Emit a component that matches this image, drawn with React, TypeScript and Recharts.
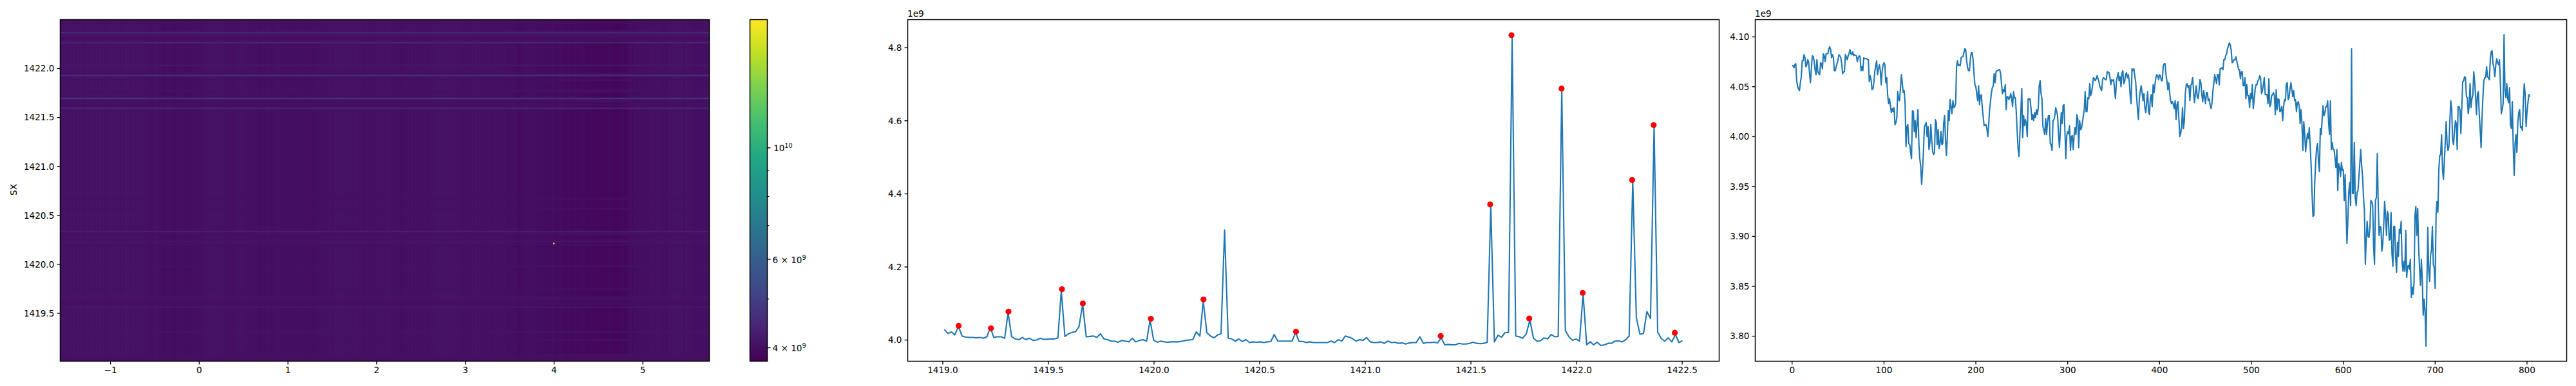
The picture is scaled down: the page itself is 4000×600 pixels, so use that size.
import React from "react";
import { ComposedChart, Line, XAxis, YAxis, ReferenceArea } from "recharts";

const FONT = "DejaVu Sans";
const BLUE = "#1f77b4";

const viridisStops = ["#440154", "#482475", "#414487", "#355f8d", "#2a788e", "#21918c", "#22a884", "#44bf70", "#7ad151", "#bddf26", "#fde725"];
const colorMin = 3.76e9;
const colorMax = 1.8e10;

// Panel 2: spectrum (x in SX, value in units of 1e6)
const spectrumX = [
  1419.007,1419.024,1419.041,1419.057,1419.074,1419.091,1419.108,1419.125,1419.141,1419.158,
  1419.175,1419.192,1419.209,1419.225,1419.242,1419.259,1419.276,1419.293,1419.309,1419.326,
  1419.343,1419.360,1419.377,1419.393,1419.410,1419.427,1419.444,1419.461,1419.477,1419.494,
  1419.511,1419.528,1419.545,1419.561,1419.578,1419.595,1419.612,1419.629,1419.645,1419.662,
  1419.679,1419.696,1419.713,1419.729,1419.746,1419.763,1419.780,1419.797,1419.813,1419.830,
  1419.847,1419.864,1419.881,1419.897,1419.914,1419.931,1419.948,1419.965,1419.981,1419.998,
  1420.015,1420.032,1420.049,1420.065,1420.082,1420.099,1420.116,1420.133,1420.149,1420.166,
  1420.183,1420.200,1420.217,1420.233,1420.250,1420.267,1420.284,1420.301,1420.317,1420.334,
  1420.351,1420.368,1420.385,1420.401,1420.418,1420.435,1420.452,1420.469,1420.485,1420.502,
  1420.519,1420.536,1420.553,1420.569,1420.586,1420.603,1420.620,1420.637,1420.653,1420.670,
  1420.687,1420.704,1420.721,1420.737,1420.754,1420.771,1420.788,1420.805,1420.821,1420.838,
  1420.855,1420.872,1420.889,1420.905,1420.922,1420.939,1420.956,1420.973,1420.989,1421.006,
  1421.023,1421.040,1421.057,1421.073,1421.090,1421.107,1421.124,1421.141,1421.157,1421.174,
  1421.191,1421.208,1421.225,1421.241,1421.258,1421.275,1421.292,1421.309,1421.325,1421.342,
  1421.359,1421.376,1421.393,1421.409,1421.426,1421.443,1421.460,1421.477,1421.493,1421.510,
  1421.527,1421.544,1421.561,1421.577,1421.594,1421.611,1421.628,1421.645,1421.661,1421.678,
  1421.695,1421.712,1421.729,1421.745,1421.762,1421.779,1421.796,1421.813,1421.829,1421.846,
  1421.863,1421.880,1421.897,1421.913,1421.930,1421.947,1421.964,1421.981,1421.997,1422.014,
  1422.031,1422.048,1422.065,1422.081,1422.098,1422.115,1422.132,1422.149,1422.165,1422.182,
  1422.199,1422.216,1422.233,1422.249,1422.266,1422.283,1422.300,1422.317,1422.333,1422.350,
  1422.367,1422.384,1422.401,1422.417,1422.434,1422.451,1422.468,1422.485,1422.501,
];
const spectrumV = [
  4029,4018,4022,4014,4038,4011,4008,4007,4007,4006,
  4007,4005,4009,4034,4007,4009,4009,4005,4075,4009,
  4003,4001,4007,4001,4005,3999,4000,4005,4002,4002,
  4003,4003,4006,4135,4010,4017,4021,4023,4037,4098,
  4009,4010,4011,4007,4017,4003,4001,3997,3997,3994,
  3999,3997,3995,4005,3995,3999,4001,3997,4055,4000,
  3994,3997,3995,3994,3995,3995,3995,3997,3999,4000,
  4001,4022,4011,4107,4020,4011,4006,4014,4017,4301,
  4005,4003,3997,4003,3996,4001,3993,3995,3994,3995,
  3993,3995,3996,4015,3997,3997,3997,3997,3997,4020,
  3996,3996,3993,3995,3993,3993,3993,3993,3993,3997,
  3993,4001,3997,4011,4008,4004,3997,4001,3999,4007,
  3995,3993,3993,3995,3991,3997,3993,3994,3991,3992,
  3989,3992,3993,3993,4009,3991,3993,3993,3994,3992,
  4006,3987,3988,3987,3987,3991,3989,3989,3991,3994,
  3991,3990,3991,3994,4367,3995,4013,4008,4020,4021,
  4830,4011,4009,4005,4017,4055,4005,3997,3998,4006,
  4003,4015,4009,4010,4684,4026,4009,3999,4003,3997,
  4125,3987,3995,3987,3994,3985,3987,3991,3991,3997,
  3998,3995,4001,4011,4435,4061,4016,4018,4078,4059,
  4584,4022,4004,3997,4006,3995,4015,3993,3998,
];
const peakX = [1419.075,1419.228,1419.311,1419.564,1419.663,1419.985,1420.234,1420.672,1421.357,1421.591,1421.692,1421.776,1421.929,1422.029,1422.263,1422.365,1422.465];
const peakV = [4039,4032,4078,4139,4100,4058,4111,4023,4011,4371,4834,4059,4688,4129,4438,4588,4020];

// Panel 3: [frame index, value in units of 1e6]
const frameSeries: [number, number][] = [
[0,4071],[1,4071],[2,4069],[3,4072],[4,4073],[5,4056],[6,4050],[8,4046],[9,4054],[10,4060],[11,4076],[12,4076],[13,4082],[14,4079],[15,4070],[16,4072],[17,4077],[18,4075],[19,4063],[20,4054],
[21,4068],[22,4081],[23,4080],[24,4076],[25,4067],[26,4062],[27,4077],[28,4065],[29,4063],[30,4062],[31,4074],[32,4073],[33,4068],[34,4083],[35,4081],[36,4075],[37,4083],[39,4083],[40,4088],[41,4090],
[42,4087],[43,4079],[44,4082],[45,4079],[46,4066],[47,4066],[48,4070],[50,4077],[51,4082],[52,4081],[53,4079],[54,4073],[55,4063],[56,4065],[57,4065],[58,4082],[59,4080],[60,4077],[61,4081],[62,4083],
[63,4087],[64,4083],[65,4082],[66,4085],[67,4081],[68,4082],[70,4081],[71,4075],[72,4079],[73,4081],[74,4080],[75,4066],[76,4070],[77,4066],[78,4079],[79,4078],[80,4078],[81,4078],[83,4077],[84,4055],
[85,4061],[86,4057],[87,4047],[88,4048],[89,4054],[90,4065],[92,4076],[93,4062],[94,4067],[95,4072],[96,4067],[97,4052],[98,4065],[99,4072],[100,4074],[101,4072],[102,4054],[103,4059],[104,4042],[105,4033],
[106,4038],[107,4031],[108,4024],[109,4028],[110,4025],[111,4029],[112,4012],[113,4014],[114,4019],[115,4045],[116,4037],[117,4036],[119,4062],[120,4053],[121,4044],[122,4046],[123,4033],[124,3990],[125,4010],[126,4012],
[127,3993],[128,3992],[129,3984],[130,3978],[131,4026],[132,4025],[133,4005],[134,4016],[135,3999],[137,4027],[138,3993],[139,3978],[140,3970],[141,3952],[142,3967],[143,3986],[144,4010],[145,4012],[146,4014],[147,4000],
[148,4010],[149,3987],[150,3994],[151,4012],[152,3997],[153,3985],[154,3982],[155,3984],[156,4017],[157,4014],[158,3992],[159,4007],[160,3988],[161,3993],[162,4005],[163,3992],[164,3993],[165,4013],[166,4021],[167,3997],
[168,3981],[169,4001],[170,4026],[171,4016],[172,4037],[173,4030],[174,4023],[175,4036],[176,4029],[177,4030],[178,4033],[179,4070],[180,4076],[181,4071],[182,4072],[183,4071],[184,4079],[185,4080],[186,4080],[187,4084],
[188,4088],[189,4087],[190,4076],[191,4069],[192,4066],[193,4066],[194,4077],[195,4084],[196,4084],[197,4077],[198,4063],[199,4052],[200,4050],[202,4036],[203,4051],[204,4032],[205,4041],[206,4042],[207,4029],[209,4011],
[211,4012],[212,4008],[213,4000],[214,4012],[215,4027],[217,4044],[218,4049],[219,4051],[220,4063],[221,4054],[222,4065],[223,4066],[224,4066],[225,4067],[226,4067],[227,4063],[228,4052],[229,4043],[230,4047],[231,4045],
[232,4052],[233,4027],[234,4040],[235,4040],[236,4037],[237,4039],[238,4043],[239,4038],[240,4030],[241,4045],[242,4039],[243,4039],[244,4025],[245,4005],[246,3988],[247,3980],[248,4003],[250,4048],[251,3999],[252,4021],
[253,4011],[254,4017],[255,4013],[256,4000],[257,4038],[258,4037],[259,4038],[260,4029],[261,4017],[262,4022],[263,4016],[264,4024],[265,4019],[266,4027],[267,4022],[268,4029],[269,4051],[270,4056],[271,4043],[272,4038],
[273,4010],[274,4007],[275,4002],[276,4018],[277,4002],[278,4014],[279,4021],[280,4021],[281,3993],[282,3992],[283,3986],[284,4016],[285,4017],[286,4021],[287,4029],[288,4025],[289,4021],[290,4003],[291,3989],[292,4005],
[293,4024],[294,4013],[295,4031],[296,4032],[297,4005],[298,3978],[299,4001],[300,4005],[301,4003],[302,4011],[303,3986],[304,4000],[305,4001],[306,3987],[307,4001],[308,4009],[309,4002],[310,4022],[311,4018],[312,3989],
[313,4016],[314,4007],[315,4008],[316,4014],[318,4027],[319,4045],[320,4025],[321,4025],[322,4039],[323,4038],[324,4053],[325,4041],[326,4044],[327,4051],[328,4059],[329,4058],[330,4056],[331,4058],[332,4061],[333,4058],
[334,4055],[335,4050],[336,4048],[337,4046],[338,4057],[339,4059],[340,4058],[341,4057],[342,4057],[343,4065],[345,4064],[346,4059],[347,4052],[348,4057],[349,4056],[350,4057],[352,4038],[353,4055],[354,4060],[355,4064],
[356,4056],[357,4060],[358,4050],[359,4063],[360,4066],[361,4053],[362,4055],[363,4062],[364,4064],[365,4059],[366,4062],[367,4055],[368,4042],[369,4033],[370,4068],[371,4066],[372,4068],[373,4061],[374,4055],[375,4040],
[376,4027],[377,4017],[378,4038],[379,4046],[380,4051],[381,4044],[382,4036],[383,4043],[384,4029],[385,4024],[387,4045],[388,4025],[389,4022],[390,4038],[391,4042],[392,4030],[393,4052],[394,4044],[395,4052],[396,4059],
[397,4062],[398,4061],[399,4057],[400,4062],[401,4061],[402,4056],[403,4056],[404,4071],[405,4073],[406,4073],[407,4062],[408,4056],[409,4047],[410,4054],[411,4044],[412,4036],[413,4033],[414,4035],[415,4032],[416,4028],
[417,4036],[418,4017],[419,4032],[420,4035],[421,4018],[422,4000],[423,4003],[424,4010],[425,4029],[426,4008],[427,4016],[428,4042],[429,4052],[430,4053],[431,4049],[432,4051],[433,4036],[434,4051],[435,4053],[436,4059],
[437,4046],[438,4034],[439,4043],[440,4051],[441,4040],[442,4038],[443,4046],[444,4057],[445,4054],[446,4042],[447,4035],[448,4046],[449,4040],[450,4033],[451,4044],[452,4044],[453,4036],[454,4038],[455,4032],[456,4028],
[457,4033],[458,4045],[459,4053],[460,4062],[461,4058],[462,4053],[463,4062],[464,4062],[465,4052],[466,4068],[467,4068],[468,4069],[469,4067],[470,4077],[471,4077],[472,4081],[473,4083],[474,4088],[475,4091],[476,4094],
[477,4092],[478,4086],[479,4074],[480,4075],[481,4077],[482,4077],[483,4080],[484,4076],[485,4072],[486,4067],[487,4067],[488,4058],[489,4065],[490,4065],[491,4051],[492,4051],[493,4059],[494,4038],[495,4052],[496,4041],
[497,4041],[498,4029],[499,4043],[500,4038],[501,4052],[502,4028],[503,4037],[504,4047],[505,4052],[506,4052],[507,4056],[508,4057],[509,4061],[510,4059],[511,4043],[512,4046],[513,4052],[514,4059],[515,4042],[516,4042],
[517,4042],[518,4033],[519,4058],[520,4030],[521,4032],[522,4041],[523,4042],[524,4044],[525,4041],[526,4022],[527,4047],[528,4027],[529,4038],[530,4037],[531,4025],[532,4026],[533,4030],[534,4016],[535,4030],[536,4037],
[537,4036],[538,4053],[539,4054],[540,4037],[541,4039],[542,4048],[543,4054],[544,4047],[545,4040],[546,4046],[547,4036],[548,4037],[549,4025],[550,4034],[551,4035],[552,4031],[553,4013],[554,4027],[555,4013],[556,3986],
[557,4015],[558,4003],[559,3985],[560,3995],[561,4003],[562,3998],[563,4009],[564,3990],[565,3971],[566,3943],[567,3920],[568,3921],[569,3956],[570,3975],[571,3989],[572,3993],[573,3975],[574,3965],[575,4008],[576,4002],
[577,4018],[578,4031],[579,4021],[580,4024],[581,4030],[582,4030],[583,4036],[584,4014],[585,4002],[586,4036],[587,3987],[588,3994],[589,3987],[590,3987],[591,3978],[592,3969],[593,3987],[594,3946],[595,3973],[596,3969],
[597,3960],[598,3974],[599,3966],[600,3967],[601,3936],[602,3962],[604,3893],[605,3917],[606,3945],[607,3954],[608,3931],[609,4088],[610,3943],[611,3943],[612,3994],[613,3939],[614,3931],[615,3944],[616,3946],[618,3973],
[619,3987],[620,3971],[621,3960],[622,3939],[623,3926],[624,3872],[625,3898],[626,3915],[627,3900],[628,3899],[629,3909],[630,3936],[631,3935],[632,3931],[633,3890],[634,3872],[635,3936],[636,3939],[637,3983],[638,3935],
[639,3901],[640,3910],[641,3909],[642,3885],[643,3893],[644,3911],[645,3935],[646,3922],[647,3901],[648,3925],[649,3922],[650,3896],[651,3897],[652,3924],[653,3883],[654,3870],[655,3910],[656,3910],[657,3879],[658,3864],
[659,3894],[660,3880],[661,3907],[662,3903],[663,3915],[664,3874],[665,3865],[666,3875],[667,3865],[668,3906],[669,3859],[670,3870],[671,3871],[672,3867],[673,3877],[674,3839],[675,3849],[676,3842],[677,3853],[678,3920],
[679,3930],[680,3901],[681,3928],[682,3890],[683,3868],[684,3851],[685,3877],[686,3857],[687,3821],[688,3837],[689,3825],[690,3790],[691,3851],[692,3909],[693,3866],[694,3855],[695,3881],[696,3887],[697,3910],[698,3872],
[699,3868],[700,3848],[701,3922],[702,3935],[703,3924],[704,3967],[705,3981],[706,3982],[707,4002],[708,3967],[709,3957],[710,3975],[711,3994],[712,4015],[713,3993],[714,3986],[715,3990],[716,4016],[717,4036],[718,4028],
[719,3997],[720,3992],[721,4005],[722,4016],[723,4013],[724,3987],[725,4030],[726,4030],[727,4027],[728,4003],[730,4055],[731,4056],[732,4060],[733,4059],[734,4040],[735,4039],[736,4023],[737,4031],[738,4053],[739,4029],
[740,4038],[741,4041],[742,4065],[743,4055],[744,4040],[745,4022],[746,4043],[747,4045],[748,4023],[749,4007],[750,3989],[751,4018],[752,4040],[753,4056],[754,4059],[755,4059],[756,4070],[757,4060],[758,4059],[759,4057],
[760,4077],[761,4085],[762,4086],[763,4073],[764,4069],[765,4060],[766,4072],[767,4078],[768,4074],[769,4072],[770,4077],[771,4054],[772,4023],[773,4027],[774,4033],[775,4102],[776,4047],[777,4039],[778,4053],[779,4038],
[780,4034],[781,4049],[782,4012],[783,4008],[784,4035],[785,3990],[786,3961],[787,3993],[788,4002],[789,3984],[790,4015],[791,4024],[792,4027],[793,4009],[794,4010],[795,4006],[796,4036],[797,4053],[798,4042],[799,4010],
[800,4025],[801,4034],[802,4042],[803,4040],
];

const frameCount = 804;
const heatXDomain: [number, number] = [-1.567, 5.75];
const heatYDomain: [number, number] = [1419.01, 1422.5];
const heatXTicks = [-1, 0, 1, 2, 3, 4, 5];
const heatYTicks = [1419.5, 1420, 1420.5, 1421, 1421.5, 1422];
const hotCell = { x1: 3.99, x2: 4.005, y1: 1420.205, y2: 1420.22, value: 1.8e10 };

const spectrumXTicks = [1419, 1419.5, 1420, 1420.5, 1421, 1421.5, 1422, 1422.5];
const spectrumYTicks = [4000, 4200, 4400, 4600, 4800];
const spectrumXDomain: [number, number] = [1418.834, 1422.675];
const spectrumYDomain: [number, number] = [3942, 4876.7];

const frameXTicks = [0, 100, 200, 300, 400, 500, 600, 700, 800];
const frameYTicks = [3800, 3850, 3900, 3950, 4000, 4050, 4100];
const frameXDomain: [number, number] = [-40.15, 843.15];
const frameYDomain: [number, number] = [3774.9, 4117.2];

const colorbarUnit: [number, number] = [0, 1];
const colorbarMajor = [4e9, 6e9, 1e10];
const colorbarTicks = [4e9, 5e9, 6e9, 7e9, 8e9, 9e9, 1e10];

const spectrumData = spectrumX.map((x, i) => ({ x, v: spectrumV[i] }));
const peakData = peakX.map((x, i) => ({ x, v: peakV[i] }));
const frameData = frameSeries.map(([x, v]) => ({ x, v }));

function viridis(value: number): string {
  const t = Math.min(1, Math.max(0, Math.log(value / colorMin) / Math.log(colorMax / colorMin)));
  const p = t * (viridisStops.length - 1);
  const i = Math.min(viridisStops.length - 2, Math.floor(p));
  const f = p - i;
  const a = viridisStops[i];
  const b = viridisStops[i + 1];
  const ch = (s: string, o: number) => parseInt(s.slice(o, o + 2), 16);
  const mix = (o: number) => Math.round(ch(a, o) + (ch(b, o) - ch(a, o)) * f);
  return `rgb(${mix(1)},${mix(3)},${mix(5)})`;
}

const frameToHeatX = (frame: number) =>
  heatXDomain[0] + (frame / frameCount) * (heatXDomain[1] - heatXDomain[0]);

const tickStyle = { fill: "#000", fontSize: 13.6, fontFamily: FONT };
const tickLineStyle = { stroke: "#000", strokeWidth: 1.3 };

function frameArea(x: [number, number], y: [number, number]) {
  return (
    <ReferenceArea
      x1={x[0]}
      x2={x[1]}
      y1={y[0]}
      y2={y[1]}
      fill="none"
      fillOpacity={0}
      stroke="#000"
      strokeWidth={1.5}
      ifOverflow="visible"
    />
  );
}

function ColorbarTick(props: any) {
  const { x, y, payload } = props;
  const v = payload.value as number;
  const major = colorbarMajor.includes(v);
  let body: React.ReactNode = null;
  if (major) {
    if (v === 1e10) {
      body = (
        <text x={x + 9.5} y={y + 5.5} fill="#000" fontSize={13.6} fontFamily={FONT}>
          10<tspan dy={-5} fontSize={9.6}>10</tspan>
        </text>
      );
    } else {
      body = (
        <text x={x + 8} y={y + 5.5} fill="#000" fontSize={13.6} fontFamily={FONT}>
          {v / 1e9} × 10<tspan dy={-5} fontSize={9.6}>9</tspan>
        </text>
      );
    }
  }
  return (
    <g>
      <line x1={x} x2={x + (major ? 5 : 3)} y1={y} y2={y} stroke="#000" strokeWidth={major ? 1.3 : 1} />
      {body}
    </g>
  );
}

function Heatmap() {
  return (
    <ComposedChart width={1120} height={600} margin={{ top: 30.5, right: 18.5, bottom: 0, left: 0 }} data={[]}>
      <XAxis
        type="number"
        dataKey="x"
        domain={heatXDomain}
        ticks={heatXTicks}
        interval={0}
        allowDataOverflow
        height={38.5}
        axisLine={false}
        tickLine={tickLineStyle}
        tickSize={5}
        tickMargin={4}
        tick={tickStyle}
        tickFormatter={(v: number) => (v < 0 ? `\u2212${-v}` : `${v}`)}
      />
      <YAxis
        type="number"
        dataKey="y"
        domain={heatYDomain}
        ticks={heatYTicks}
        interval={0}
        allowDataOverflow
        width={93.5}
        axisLine={false}
        tickLine={tickLineStyle}
        tickSize={5}
        tickMargin={4}
        tick={tickStyle}
        tickFormatter={(v: number) => v.toFixed(1)}
      />
      <ReferenceArea x1={heatXDomain[0]} x2={heatXDomain[1]} y1={heatYDomain[0]} y2={heatYDomain[1]} fill={viridis(4.03e9)} fillOpacity={1} stroke="none" ifOverflow="hidden" />
      {frameSeries.slice(0, -1).map(([f, v], i) => (
        <ReferenceArea
          key={`c${i}`}
          x1={frameToHeatX(f)}
          x2={frameToHeatX(frameSeries[i + 1][0])}
          y1={heatYDomain[0]}
          y2={heatYDomain[1]}
          fill={viridis(v * 1e6)}
          fillOpacity={1}
          stroke="none"
          ifOverflow="hidden"
        />
      ))}
      {spectrumX.map((x, i) =>
        spectrumV[i] > 4012 ? (
          <ReferenceArea
            key={`r${i}`}
            x1={heatXDomain[0]}
            x2={heatXDomain[1]}
            y1={x - 0.0084}
            y2={x + 0.0084}
            fill={viridis(spectrumV[i] * 1e6)}
            fillOpacity={0.9}
            stroke="none"
            ifOverflow="hidden"
          />
        ) : null
      )}
      <ReferenceArea x1={hotCell.x1} x2={hotCell.x2} y1={hotCell.y1} y2={hotCell.y2} fill={viridis(hotCell.value)} fillOpacity={1} stroke="none" ifOverflow="hidden" />
      {frameArea(heatXDomain, heatYDomain)}
    </ComposedChart>
  );
}

function Colorbar() {
  return (
    <ComposedChart width={150} height={600} margin={{ top: 30.5, right: 38.5, bottom: 0, left: 14.5 }} data={[]}>
      <defs>
        <linearGradient id="viridisBar" x1="0" y1="1" x2="0" y2="0">
          {viridisStops.map((c, i) => (
            <stop key={c} offset={i / (viridisStops.length - 1)} stopColor={c} />
          ))}
        </linearGradient>
      </defs>
      <XAxis
        type="number"
        dataKey="x"
        domain={colorbarUnit}
        allowDataOverflow
        height={38.5}
        tick={false}
        axisLine={false}
        tickLine={false}
      />
      <YAxis
        type="number"
        dataKey="y"
        orientation="right"
        scale="log"
        domain={[colorMin, colorMax]}
        allowDataOverflow
        ticks={colorbarTicks}
        interval={0}
        width={70}
        axisLine={false}
        tickLine={false}
        tickSize={0}
        tickMargin={0}
        tick={<ColorbarTick />}
      />
      <ReferenceArea x1={colorbarUnit[0]} x2={colorbarUnit[1]} y1={colorMin} y2={colorMax} fill="url(#viridisBar)" fillOpacity={1} stroke="none" ifOverflow="visible" />
      {frameArea(colorbarUnit, [colorMin, colorMax])}
    </ComposedChart>
  );
}

function Spectrum() {
  return (
    <ComposedChart width={1350} height={600} margin={{ top: 30.5, right: 20.5, bottom: 0, left: 0 }}>
      <XAxis
        type="number"
        dataKey="x"
        domain={spectrumXDomain}
        ticks={spectrumXTicks}
        interval={0}
        allowDataOverflow
        height={38.5}
        axisLine={false}
        tickLine={tickLineStyle}
        tickSize={5}
        tickMargin={4}
        tick={tickStyle}
        tickFormatter={(v: number) => v.toFixed(1)}
      />
      <YAxis
        type="number"
        domain={spectrumYDomain}
        ticks={spectrumYTicks}
        interval={0}
        allowDataOverflow
        width={69.5}
        axisLine={false}
        tickLine={tickLineStyle}
        tickSize={5}
        tickMargin={4}
        tick={tickStyle}
        tickFormatter={(v: number) => (v / 1000).toFixed(1)}
      />
      <Line data={spectrumData} dataKey="v" type="linear" stroke={BLUE} strokeWidth={2.1} strokeLinejoin="round" dot={false} activeDot={false} isAnimationActive={false} />
      <Line data={peakData} dataKey="v" type="linear" stroke="none" dot={{ r: 4.6, fill: "#ff0000", stroke: "none" }} activeDot={false} isAnimationActive={false} />
      {frameArea(spectrumXDomain, spectrumYDomain)}
    </ComposedChart>
  );
}

function FramePlot() {
  return (
    <ComposedChart width={1325} height={600} margin={{ top: 30.5, right: 14.5, bottom: 0, left: 0 }}>
      <XAxis
        type="number"
        dataKey="x"
        domain={frameXDomain}
        ticks={frameXTicks}
        interval={0}
        allowDataOverflow
        height={38.5}
        axisLine={false}
        tickLine={tickLineStyle}
        tickSize={5}
        tickMargin={4}
        tick={tickStyle}
      />
      <YAxis
        type="number"
        domain={frameYDomain}
        ticks={frameYTicks}
        interval={0}
        allowDataOverflow
        width={50.5}
        axisLine={false}
        tickLine={tickLineStyle}
        tickSize={5}
        tickMargin={4}
        tick={tickStyle}
        tickFormatter={(v: number) => (v / 1000).toFixed(2)}
      />
      <Line data={frameData} dataKey="v" type="linear" stroke={BLUE} strokeWidth={2.1} strokeLinejoin="round" dot={false} activeDot={false} isAnimationActive={false} />
      {frameArea(frameXDomain, frameYDomain)}
    </ComposedChart>
  );
}

const place = (left: number, top = 0): React.CSSProperties => ({ position: "absolute", left, top });
const smallText: React.CSSProperties = { fontFamily: FONT, fontSize: 13.6, color: "#000", lineHeight: "16px", whiteSpace: "nowrap" };

export default function App() {
  return (
    <div style={{ position: "absolute", left: 0, top: 0, width: 4000, height: 600, background: "#fff", overflow: "hidden" }}>
      <div style={place(0)}><Heatmap /></div>
      <div style={place(1150)}><Colorbar /></div>
      <div style={place(1340)}><Spectrum /></div>
      <div style={place(2675)}><FramePlot /></div>
      <div style={{ ...place(12, 287), ...smallText, transform: "rotate(-90deg)", transformOrigin: "50% 50%" }}>SX</div>
      <div style={{ ...place(1409, 13), ...smallText }}>1e9</div>
      <div style={{ ...place(2725, 13), ...smallText }}>1e9</div>
    </div>
  );
}
